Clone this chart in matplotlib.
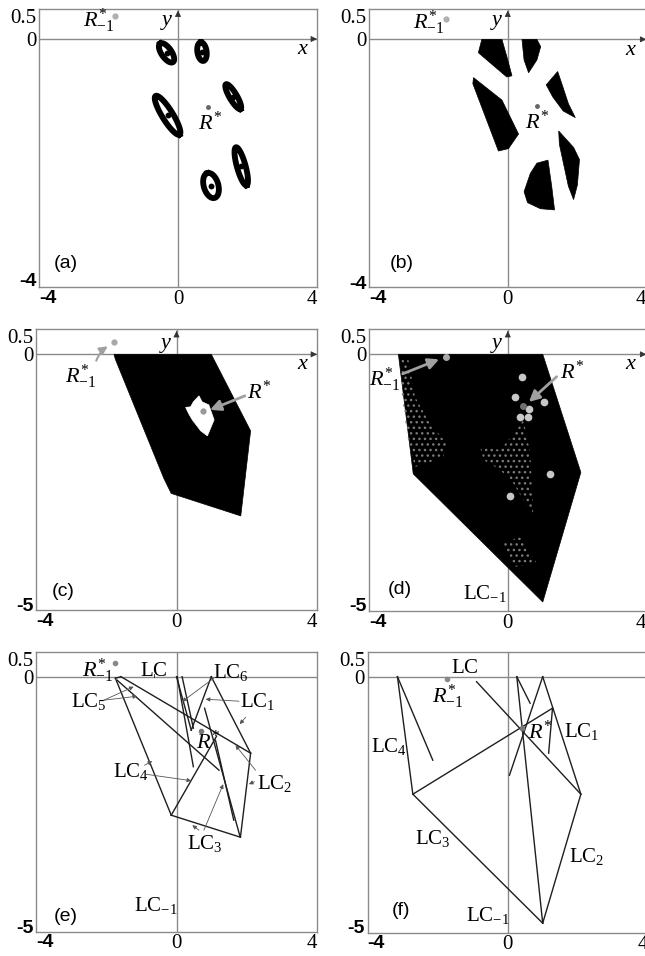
import numpy as np
import matplotlib
matplotlib.use('Agg')
import matplotlib.pyplot as plt
from matplotlib.patches import Polygon
from matplotlib.font_manager import FontProperties

plt.rcParams['font.family'] = ['Liberation Serif', 'DejaVu Serif']
plt.rcParams['mathtext.fontset'] = 'custom'
plt.rcParams['mathtext.rm'] = 'Liberation Serif'
plt.rcParams['mathtext.it'] = 'Liberation Serif:italic'
plt.rcParams['hatch.linewidth'] = 1.0

# ---------------- data ----------------
x_ticks = [-4, 0, 4]
x_tick_labels = ['-4', '0', '4']
y_ticks_top = [0.5, 0, -4]
y_tick_labels_top = ['0.5', '0', '-4']
y_ticks_low = [0.5, 0, -5]
y_tick_labels_low = ['0.5', '0', '-5']

# panel (a): ring centres and conjugate semi-axes
ring_cx = [-0.33, 0.69, 1.59, -0.30, 1.82, 0.95]
ring_cy = [-0.23, -0.21, -0.96, -1.27, -2.12, -2.44]
ring_ux = [-0.182, -0.03, 0.211, 0.345, 0.153, -0.106]
ring_uy = [0.156, 0.155, -0.206, -0.322, -0.317, 0.206]
ring_vx = [0.124, 0.134, 0.090, 0.130, 0.119, 0.200]
ring_vy = [0.043, 0.0, 0.032, 0.047, 0.021, 0.036]
a_rstar = (0.85, -1.14)
a_rstar_m1 = (-1.82, 0.38)

# panel (b): six basin pieces
b_pieces_x = [
    [-0.75, -0.17, -0.03, 0.12, -0.03, -0.85],
    [0.41, 0.84, 0.95, 0.84, 0.60, 0.47],
    [1.11, 1.44, 1.56, 1.75, 1.95, 1.60, 1.30],
    [-0.99, -0.17, 0.31, 0.02, -0.27, -1.01],
    [1.47, 1.90, 2.07, 2.01, 1.90, 1.75, 1.49],
    [0.84, 1.16, 1.27, 1.35, 0.94, 0.57, 0.47, 0.65],
]
b_pieces_y = [
    [0.0, 0.0, -0.28, -0.60, -0.62, -0.22],
    [0.0, 0.0, -0.12, -0.34, -0.55, -0.34],
    [-0.75, -0.53, -0.73, -1.06, -1.29, -1.18, -0.95],
    [-0.63, -1.00, -1.56, -1.80, -1.84, -0.73],
    [-1.51, -1.78, -1.98, -2.40, -2.64, -2.42, -1.73],
    [-2.04, -1.99, -2.43, -2.81, -2.79, -2.69, -2.51, -2.21],
]
b_rstar = (0.84, -1.10)
b_rstar_m1 = (-1.78, 0.34)

# panel (c): absorbing area with hole
c_area_x = [-1.78, 0.99, 2.11, 1.83, -0.15, -0.36, -1.74]
c_area_y = [0.0, 0.0, -1.53, -3.23, -2.78, -2.48, -0.10]
c_hole_x = [0.26, 0.40, 0.48, 0.64, 0.73, 0.92, 1.07, 0.88, 0.69, 0.45, 0.35]
c_hole_y = [-1.06, -1.05, -0.95, -0.83, -0.95, -1.01, -1.31, -1.63, -1.53, -1.31, -1.19]
c_rstar = (0.75, -1.13)
c_rstar_m1 = (-1.79, 0.25)

# panel (d): chaotic area, speckled zones, cycle points
d_area_x = [-3.16, 1.01, 2.11, 1.01, -2.73]
d_area_y = [0.0, 0.0, -2.36, -4.95, -2.39]
d_speck1_x = [-3.07, -2.87, -2.68, -2.25, -1.76, -1.86, -2.34, -2.68, -2.90, -3.07]
d_speck1_y = [-0.11, -0.11, -0.85, -1.38, -1.78, -2.05, -2.18, -2.25, -1.65, -0.78]
d_speck2_x = [-0.80, -0.22, 0.26, 0.45, 0.65, 0.74, 0.45, 0.16, -0.22, -0.70]
d_speck2_y = [-1.85, -1.91, -1.51, -1.31, -1.98, -3.28, -2.91, -2.58, -2.31, -2.11]
d_speck3_x = [-0.13, 0.36, 0.84, 0.16]
d_speck3_y = [-3.78, -3.65, -4.18, -4.25]
d_cycle_x = [0.41, 0.21, 1.05, 0.60, 0.36, 0.57, 1.21, 0.07]
d_cycle_y = [-0.45, -0.85, -0.95, -1.10, -1.26, -1.26, -2.40, -2.83]
d_rstar = (0.45, -1.03)
d_rstar_m1 = (-1.78, -0.06)

# panel (e): critical curve segments (x0, y0, x1, y1)
e_segments = [
    (-1.74, -0.03, -0.15, -2.77),
    (-1.74, -0.03, -1.58, 0.00),
    (-1.69, -0.07, 1.21, -1.87),
    (-1.58, 0.00, 2.11, -1.53),
    (2.11, -1.53, 0.99, 0.00),
    (2.11, -1.53, 1.82, -3.21),
    (1.82, -3.21, -0.15, -2.77),
    (-0.15, -2.77, 1.14, -1.19),
    (0.99, 0.00, 0.42, -1.07),
    (0.00, 0.00, 0.42, -1.07),
    (0.16, 0.00, 0.48, -1.03),
    (0.02, 0.00, 0.48, -1.80),
    (0.80, -0.63, 1.81, -3.20),
    (1.11, -1.27, 1.63, -2.87),
]
e_rstar = (0.71, -1.08)
e_rstar_m1 = (-1.76, 0.27)

# panel (f): critical curve segments
f_segments = [
    (-3.15, 0.00, -2.71, -2.35),
    (-3.15, 0.00, -2.14, -1.67),
    (-2.71, -2.35, 1.00, -4.93),
    (1.00, -4.93, 2.09, -2.35),
    (2.09, -2.35, 1.00, 0.00),
    (-2.71, -2.35, 1.28, -0.63),
    (-0.89, -0.10, 2.09, -2.35),
    (0.26, 0.00, 0.64, -0.53),
    (1.00, 0.00, 0.05, -1.97),
    (0.26, 0.00, 1.00, -4.93),
    (1.28, -0.63, 1.17, -1.53),
]
f_rstar = (0.42, -1.03)
f_rstar_m1 = (-1.74, -0.05)

FRAME = '#8a8a8a'
LINE = '#1e1e1e'
ARROW = '#a0a0a0'

W, H = 645, 956
fig = plt.figure(figsize=(W / 100, H / 100), dpi=100)


def frac(left, top, w, h):
    return [left / W, 1 - (top + h) / H, w / W, h / H]


SERIF = dict(family='Liberation Serif', size=15)
SANS = dict(family='Liberation Sans', size=14, weight='bold')


def setup(ax, ylim, yticks, ylabels, arrows=True, xlab=None, ylab=None):
    ax.set_xlim(-4, 4)
    ax.set_ylim(*ylim)
    for s in ax.spines.values():
        s.set_color(FRAME)
        s.set_linewidth(1.0)
    ax.set_xticks(x_ticks, x_tick_labels)
    ax.set_yticks(yticks, ylabels)
    ax.tick_params(length=0, pad=2)
    xl = ax.get_xticklabels()
    for lab, ha, fp in zip(xl, ['left', 'center', 'right'], [SANS, SERIF, SERIF]):
        lab.set_ha(ha)
        lab.set_fontproperties(FontProperties(**fp))
    yl = ax.get_yticklabels()
    for lab, fp in zip(yl, [SERIF, SERIF, SANS]):
        lab.set_fontproperties(FontProperties(**fp))
    yl[0].set_va('top')
    ax.axhline(0, color=FRAME, lw=1.0, zorder=1)
    ax.axvline(0, color=FRAME, lw=1.0, zorder=1)
    if arrows:
        ax.annotate('', xy=(4.08, 0), xytext=(3.8, 0),
                    arrowprops=dict(arrowstyle='-|>', color='#333333', lw=0.6,
                                    mutation_scale=9), annotation_clip=False)
        ax.annotate('', xy=(0, ylim[1] + 0.02), xytext=(0, ylim[1] - 0.12),
                    arrowprops=dict(arrowstyle='-|>', color='#333333', lw=0.6,
                                    mutation_scale=9), annotation_clip=False)
    if xlab is not None:
        ax.text(xlab[0], xlab[1], 'x', style='italic', fontsize=16,
                ha='center', va='center')
    if ylab is not None:
        ax.text(ylab[0], ylab[1], 'y', style='italic', fontsize=16,
                ha='center', va='center')


def panel_label(ax, pos, s):
    ax.text(pos[0], pos[1], s, family='Liberation Sans', fontsize=14,
            ha='center', va='center')


ax_a = fig.add_axes(frac(39, 9, 278, 278))
ax_b = fig.add_axes(frac(369.3, 9, 277, 278))
ax_c = fig.add_axes(frac(36, 329.3, 281, 280.7))
ax_d = fig.add_axes(frac(369.3, 329.3, 277, 281.7))
ax_e = fig.add_axes(frac(36, 651.7, 281, 280))
ax_f = fig.add_axes(frac(367.7, 651.7, 280, 281))

# ---------------- (a) ----------------
setup(ax_a, (-4.13, 0.5), y_ticks_top, y_tick_labels_top,
      xlab=(3.57, -0.18), ylab=(-0.32, 0.31))
t = np.linspace(0, 2 * np.pi, 120)
for cx, cy, ux, uy, vx, vy in zip(ring_cx, ring_cy, ring_ux, ring_uy, ring_vx, ring_vy):
    ax_a.plot(cx + ux * np.cos(t) + vx * np.sin(t),
              cy + uy * np.cos(t) + vy * np.sin(t),
              color='black', lw=4.2, zorder=3)
    ax_a.plot(cx, cy, 'o', color='black', ms=3.2, zorder=4)
ax_a.plot(*a_rstar, 'o', color='#666666', ms=2.5, zorder=4)
ax_a.plot(*a_rstar_m1, 'o', color='#b0b0b0', ms=3.5, zorder=4)
ax_a.text(0.93, -1.41, r'$R^{*}$', fontsize=16, ha='center', va='center')
ax_a.text(-2.28, 0.30, r'$R^{*}_{-1}$', fontsize=16, ha='center', va='center')
panel_label(ax_a, (-3.24, -3.74), '(a)')

# ---------------- (b) ----------------
setup(ax_b, (-4.08, 0.5), y_ticks_top, y_tick_labels_top,
      xlab=(3.54, -0.18), ylab=(-0.32, 0.31))
for px, py in zip(b_pieces_x, b_pieces_y):
    ax_b.add_patch(Polygon(np.column_stack([px, py]), closed=True,
                           facecolor='black', edgecolor='black', lw=0.5, zorder=3))
ax_b.plot(*b_rstar, 'o', color='#666666', ms=2.5, zorder=4)
ax_b.plot(*b_rstar_m1, 'o', color='#b0b0b0', ms=3.5, zorder=4)
ax_b.text(0.84, -1.36, r'$R^{*}$', fontsize=16, ha='center', va='center')
ax_b.text(-2.29, 0.27, r'$R^{*}_{-1}$', fontsize=16, ha='center', va='center')
panel_label(ax_b, (-3.07, -3.69), '(b)')

# ---------------- (c) ----------------
setup(ax_c, (-5.11, 0.5), y_ticks_low, y_tick_labels_low,
      xlab=(3.59, -0.21), ylab=(-0.31, 0.22))
ax_c.add_patch(Polygon(np.column_stack([c_area_x, c_area_y]), closed=True,
                       facecolor='black', edgecolor='black', lw=0.5, zorder=3))
ax_c.add_patch(Polygon(np.column_stack([c_hole_x, c_hole_y]), closed=True,
                       facecolor='white', edgecolor='white', lw=0.5, zorder=4))
ax_c.plot(*c_rstar, 'o', color='#999999', ms=3.5, zorder=5)
ax_c.plot(*c_rstar_m1, 'o', color='#a8a8a8', ms=3.5, zorder=5)
ax_c.annotate('', xy=(0.88, -1.13), xytext=(2.02, -0.81),
              arrowprops=dict(arrowstyle='-|>', color=ARROW, lw=2,
                              mutation_scale=16), zorder=6)
ax_c.annotate('', xy=(-1.89, 0.19), xytext=(-2.31, -0.18),
              arrowprops=dict(arrowstyle='-|>', color=ARROW, lw=1.5,
                              mutation_scale=12,
                              connectionstyle='arc3,rad=-0.2'), zorder=6)
ax_c.text(2.35, -0.75, r'$R^{*}$', fontsize=16, ha='center', va='center')
ax_c.text(-2.74, -0.45, r'$R^{*}_{-1}$', fontsize=16, ha='center', va='center')
panel_label(ax_c, (-3.22, -4.75), '(c)')

# ---------------- (d) ----------------
setup(ax_d, (-5.13, 0.5), y_ticks_low, y_tick_labels_low,
      xlab=(3.54, -0.21), ylab=(-0.32, 0.22))
ax_d.add_patch(Polygon(np.column_stack([d_area_x, d_area_y]), closed=True,
                       facecolor='black', edgecolor='black', lw=0.5, zorder=3))
for sx, sy in [(d_speck1_x, d_speck1_y), (d_speck2_x, d_speck2_y),
               (d_speck3_x, d_speck3_y)]:
    ax_d.add_patch(Polygon(np.column_stack([sx, sy]), closed=True,
                           facecolor='none', edgecolor='#7a7a7a', lw=0,
                           hatch='...', zorder=4))
ax_d.plot(d_cycle_x, d_cycle_y, 'o', color='#c8c8c8', ms=4.5, ls='none', zorder=5)
ax_d.plot(*d_rstar, 'o', color='#707070', ms=4, zorder=5)
ax_d.plot(*d_rstar_m1, 'o', color='#a8a8a8', ms=4, zorder=5)
ax_d.annotate('', xy=(-1.91, -0.08), xytext=(-3.11, -0.41),
              arrowprops=dict(arrowstyle='-|>', color=ARROW, lw=2,
                              mutation_scale=16), zorder=6)
ax_d.annotate('', xy=(0.55, -0.99), xytext=(1.47, -0.41),
              arrowprops=dict(arrowstyle='-|>', color=ARROW, lw=2,
                              mutation_scale=16), zorder=6)
ax_d.text(1.85, -0.35, r'$R^{*}$', fontsize=16, ha='center', va='center')
ax_d.text(-3.55, -0.51, r'$R^{*}_{-1}$', fontsize=16, ha='center', va='center')
ax_d.text(-0.65, -4.78, r'$\mathrm{LC}_{-1}$', fontsize=15, ha='center', va='center')
panel_label(ax_d, (-3.11, -4.71), '(d)')

# ---------------- (e) ----------------
setup(ax_e, (-5.1, 0.5), y_ticks_low, y_tick_labels_low, arrows=False)
for x0, y0, x1, y1 in e_segments:
    ax_e.plot([x0, x1], [y0, y1], color=LINE, lw=1.0, zorder=3)
ax_e.plot(*e_rstar, 'o', color='#777777', ms=3, zorder=4)
ax_e.plot(*e_rstar_m1, 'o', color='#888888', ms=3, zorder=4)
e_arrows = [
    ((-2.07, -0.47), (-1.22, -0.20)),
    ((-2.07, -0.47), (-1.12, -0.39)),
    ((1.06, -0.03), (0.16, -0.50)),
    ((1.78, -0.49), (0.83, -0.45)),
    ((1.97, -0.81), (1.80, -0.95)),
    ((2.25, -1.87), (1.68, -1.37)),
    ((2.22, -2.10), (2.06, -2.15)),
    ((-0.88, -1.95), (0.42, -2.08)),
    ((-0.91, -1.77), (-0.69, -1.69)),
    ((0.78, -3.07), (1.33, -2.15)),
    ((0.64, -3.07), (0.45, -2.97)),
]
for (tx, ty), (hx, hy) in e_arrows:
    ax_e.annotate('', xy=(hx, hy), xytext=(tx, ty),
                  arrowprops=dict(arrowstyle='-|>', color='#555555', lw=0.6,
                                  mutation_scale=6, shrinkA=0, shrinkB=0),
                  zorder=4)
ax_e.plot([-0.64, -0.64], [0.0, 0.05], color=LINE, lw=0.6)
e_labels = [
    ((-0.64, 0.11), r'$\mathrm{LC}$'),
    ((1.56, 0.08), r'$\mathrm{LC}_{6}$'),
    ((2.32, -0.50), r'$\mathrm{LC}_{1}$'),
    ((2.80, -2.13), r'$\mathrm{LC}_{2}$'),
    ((-1.30, -1.90), r'$\mathrm{LC}_{4}$'),
    ((0.80, -3.33), r'$\mathrm{LC}_{3}$'),
    ((-2.50, -0.50), r'$\mathrm{LC}_{5}$'),
    ((-0.60, -4.57), r'$\mathrm{LC}_{-1}$'),
]
for (lx, ly), s in e_labels:
    ax_e.text(lx, ly, s, fontsize=15, ha='center', va='center')
ax_e.text(0.89, -1.30, r'$R^{*}$', fontsize=16, ha='center', va='center')
ax_e.text(-2.24, 0.12, r'$R^{*}_{-1}$', fontsize=16, ha='center', va='center')
panel_label(ax_e, (-3.16, -4.80), '(e)')

# ---------------- (f) ----------------
setup(ax_f, (-5.12, 0.5), y_ticks_low, y_tick_labels_low, arrows=False)
for x0, y0, x1, y1 in f_segments:
    ax_f.plot([x0, x1], [y0, y1], color=LINE, lw=1.0, zorder=3)
ax_f.plot(*f_rstar, 'o', color='#777777', ms=3, zorder=4)
ax_f.plot(*f_rstar_m1, 'o', color='#888888', ms=3, zorder=4)
f_labels = [
    ((-1.22, 0.17), r'$\mathrm{LC}$'),
    ((2.10, -1.10), r'$\mathrm{LC}_{1}$'),
    ((2.25, -3.60), r'$\mathrm{LC}_{2}$'),
    ((-2.15, -3.23), r'$\mathrm{LC}_{3}$'),
    ((-3.40, -1.40), r'$\mathrm{LC}_{4}$'),
    ((-0.58, -4.77), r'$\mathrm{LC}_{-1}$'),
]
for (lx, ly), s in f_labels:
    ax_f.text(lx, ly, s, fontsize=15, ha='center', va='center')
ax_f.text(0.93, -1.10, r'$R^{*}$', fontsize=16, ha='center', va='center')
ax_f.text(-1.70, -0.40, r'$R^{*}_{-1}$', fontsize=16, ha='center', va='center')
panel_label(ax_f, (-3.05, -4.67), '(f)')

fig.savefig('out.png', dpi=100)
